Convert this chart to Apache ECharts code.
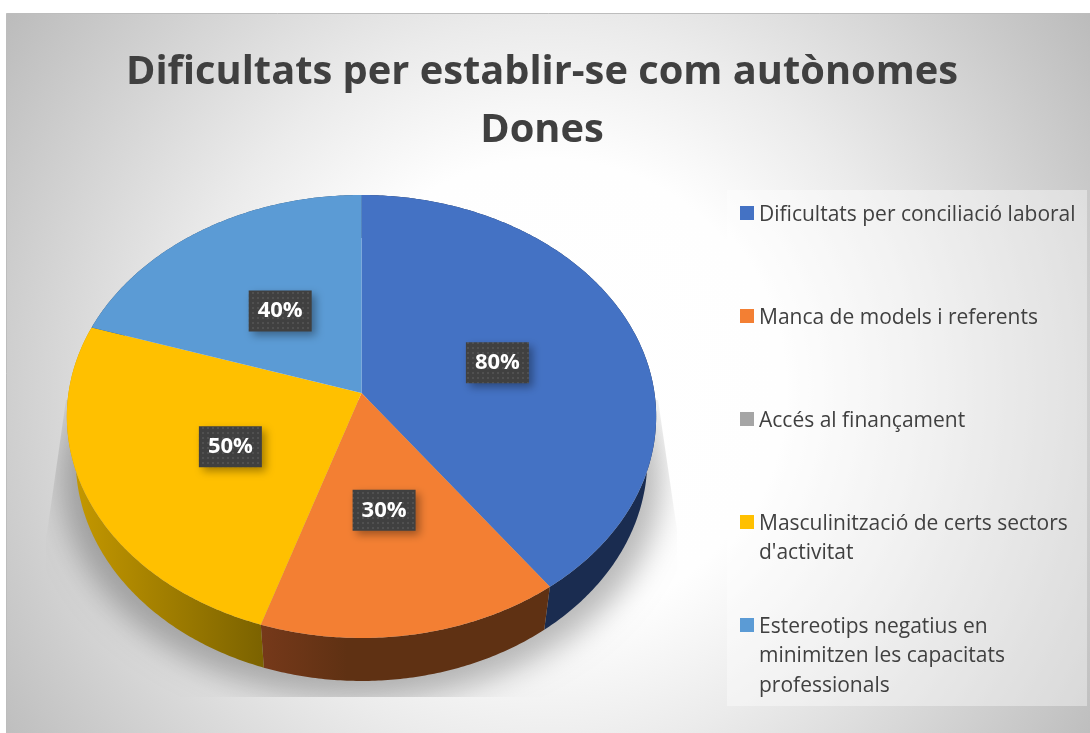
<!DOCTYPE html>
<html>
<head>
<meta charset="utf-8">
<title>Dificultats per establir-se com autònomes</title>
<style>
    html, body { margin: 0; padding: 0; background: #fff; }
    #chart { width: 1090px; height: 733px; }
</style>
<script src="https://cdn.jsdelivr.net/npm/echarts@6/dist/echarts.min.js"></script>
</head>
<body>
<div id="chart"></div>
<script>
var titleLines = ['Dificultats per establir-se com autònomes', 'Dones'];
var categories = [
    'Dificultats per conciliació laboral',
    'Manca de models i referents',
    'Accés al finançament',
    'Masculinització de certs sectors\nd\'activitat',
    'Estereotips negatius en\nminimitzen les capacitats\nprofessionals'
];
var values = [80, 30, 0, 50, 40];
var colors = ['#4472C4', '#F37F33', '#A5A5A5', '#FFC000', '#5B9BD5'];
// side of the disc: left colour, right colour, where the fade ends
var wallColors = [
    ['#1A2C50', '#1A2C50', 1],
    ['#76391A', '#5F3113', 0.3],
    ['#666666', '#666666', 1],
    ['#C79A00', '#7C6300', 1],
    ['#2D4F70', '#2D4F70', 1]
];
// nudge of the value boxes from the middle of their slice
var labelNudge = [[1, 2.5], [-3, -3.5], [0, 0], [6, 1.5], [-2, -0.5]];

// tilted disc, the near edge is drawn bigger than the far edge
var PIE = { cx: 361.5, cy: 393, a: 293, b: 219, k: 0.106, depth: 43, shrink: 0.97 };

function project(angle, r) {
    var u = Math.sin(angle) * r, v = -Math.cos(angle) * r;
    var d = 1 - PIE.k * v;
    return [PIE.cx + PIE.a * u / d, PIE.cy + PIE.b * v / d];
}

function lower(p) {
    return [PIE.cx + (p[0] - PIE.cx) * PIE.shrink, p[1] + PIE.depth];
}

function arcPoints(a0, a1) {
    var pts = [], n = Math.max(2, Math.ceil((a1 - a0) / 0.01)), i;
    for (i = 0; i <= n; i++) {
        pts.push(project(a0 + (a1 - a0) * i / n, 1));
    }
    return pts;
}

function dotPattern() {
    var c = document.createElement('canvas');
    c.width = 5;
    c.height = 5;
    var ctx = c.getContext('2d');
    ctx.fillStyle = '#404040';
    ctx.fillRect(0, 0, 5, 5);
    ctx.fillStyle = '#505050';
    ctx.fillRect(2, 2, 2, 2);
    return c;
}

var pattern = dotPattern();
var total = values.reduce(function (s, v) { return s + v; }, 0);

function renderSlice(params, api) {
    var value = api.value(0);
    if (!value) return null;
    var idx = params.seriesIndex - 1;
    var a0 = api.value(1) / total * Math.PI * 2;
    var a1 = api.value(2) / total * Math.PI * 2;
    var arc = arcPoints(a0, a1);
    var wall = arc.concat(arc.map(lower).reverse());
    var top = [[PIE.cx, PIE.cy]].concat(arc);
    var mid = project((a0 + a1) / 2, 1);
    var lx = PIE.cx + (mid[0] - PIE.cx) * 0.5 + labelNudge[idx][0];
    var ly = PIE.cy + (mid[1] - PIE.cy) * 0.5 + labelNudge[idx][1];
    var xs = arc.map(function (p) { return p[0]; });
    return {
        type: 'group',
        children: [{
            type: 'polygon',
            z2: 1,
            shape: { points: wall },
            style: {
                fill: new echarts.graphic.LinearGradient(Math.min.apply(null, xs), 0, Math.max.apply(null, xs), 0, [
                    { offset: 0, color: wallColors[idx][0] },
                    { offset: wallColors[idx][2], color: wallColors[idx][1] },
                    { offset: 1, color: wallColors[idx][1] }
                ], true)
            }
        }, {
            type: 'polygon',
            z2: 2,
            shape: { points: top },
            style: { fill: colors[idx] }
        }, {
            type: 'rect',
            z2: 10,
            shape: { x: lx - 31.5, y: ly - 20.5, width: 63, height: 41 },
            style: {
                fill: { image: pattern, repeat: 'repeat' },
                shadowBlur: 9,
                shadowOffsetX: 4,
                shadowOffsetY: 4,
                shadowColor: 'rgba(0,0,0,0.35)'
            }
        }, {
            type: 'text',
            z2: 11,
            x: lx,
            y: ly,
            style: {
                text: value + '%',
                fill: '#fff',
                font: 'bold 22px "Open Sans"',
                align: 'center',
                verticalAlign: 'middle'
            }
        }]
    };
}

// the polygon sits off the canvas so that only its soft shadow lands on the page
function renderShadow() {
    var OFF = 3000;
    var ring = arcPoints(0, Math.PI * 2).map(lower).map(function (p) {
        return [PIE.cx + (p[0] - PIE.cx) * 1.05 - OFF, p[1] + 18];
    });
    return {
        type: 'group',
        clipPath: {
            type: 'polygon',
            shape: { points: [[66, 400], [46, 540], [46, 697], [677, 697], [677, 530], [658, 400]] }
        },
        children: [{
            type: 'polygon',
            shape: { points: ring },
            style: {
                fill: '#000',
                shadowBlur: 30,
                shadowOffsetX: OFF,
                shadowColor: 'rgba(0,0,0,0.27)'
            }
        }]
    };
}

function legendIcon(h) {
    return 'path://M0,0h0M0,6h14v14h-14zM0,' + h + 'h0';
}

var LINE = 29.5;
var legends = categories.map(function (name, i) {
    var n = name.split('\n').length;
    return {
        left: 740,
        top: 200 + i * 103,
        padding: 0,
        orient: 'vertical',
        itemWidth: 14,
        itemHeight: n * LINE,
        selectedMode: false,
        textStyle: { fontFamily: 'Open Sans', fontSize: 21, color: '#404040', lineHeight: LINE },
        data: [{ name: name, icon: legendIcon(n * LINE) }]
    };
});

var sum = 0;
var sliceSeries = categories.map(function (name, i) {
    var start = sum;
    sum += values[i];
    return {
        type: 'custom',
        name: name,
        coordinateSystem: 'none',
        itemStyle: { color: colors[i] },
        renderItem: renderSlice,
        silent: true,
        data: [[values[i], start, sum]]
    };
});

var chart = echarts.init(document.getElementById('chart'));
chart.setOption({
    animation: false,
    title: {
        text: titleLines.join('\n'),
        left: 537,
        top: 39,
        textAlign: 'center',
        textStyle: { fontFamily: 'Open Sans', fontWeight: 'bold', fontSize: 39.8, color: '#404040', lineHeight: 58 }
    },
    graphic: [{
        type: 'rect',
        z: -2,
        shape: { x: 6.5, y: 13.5, width: 1090, height: 730 },
        style: {
            stroke: '#BDBDBD',
            lineWidth: 1,
            fill: new echarts.graphic.RadialGradient(548, 390, 680, [
                { offset: 0, color: '#FFFFFF' },
                { offset: 0.34, color: '#FEFEFE' },
                { offset: 0.54, color: '#EBEBEB' },
                { offset: 1, color: '#B8B8B8' }
            ], true)
        }
    }, {
        type: 'rect',
        z: -1,
        shape: { x: 727, y: 190, width: 360, height: 516 },
        style: { fill: 'rgba(255,255,255,0.39)' }
    }],
    legend: legends,
    series: [{
        type: 'custom',
        coordinateSystem: 'none',
        z: 1,
        silent: true,
        renderItem: renderShadow,
        data: [[1]]
    }].concat(sliceSeries)
});
</script>
</body>
</html>
